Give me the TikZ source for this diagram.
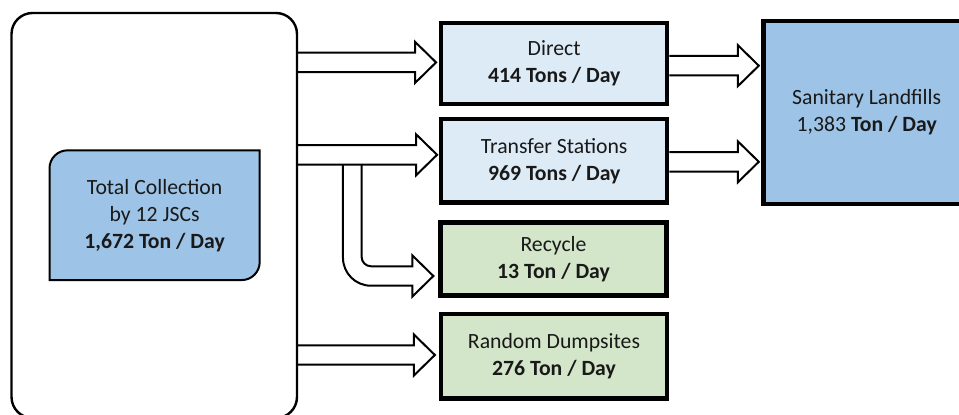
\documentclass[tikz,border=0pt]{standalone}
\usepackage{fontspec}
\setmainfont{Carlito}
\usepackage{tikz}
\usetikzlibrary{calc}
\usetikzlibrary{backgrounds}
\definecolor{deepblue}{HTML}{9DC3E6}
\definecolor{paleblue}{HTML}{DDEBF7}
\definecolor{palegreen}{HTML}{D3E6C9}
% block arrow from the x of #1 to the tip #2
\newcommand{\blockarrow}[2]{%
  \draw[blockline] let \p1=#1, \p2=#2 in
    (\x1,\y2+7.3pt) -- (\x2-15.75pt,\y2+7.3pt) -- (\x2-15.75pt,\y2+15.4pt) -- (\x2,\y2)
    -- (\x2-15.75pt,\y2-15.4pt) -- (\x2-15.75pt,\y2-7.3pt) -- (\x1,\y2-7.3pt);}

\begin{document}
\begin{tikzpicture}[x=0.75pt,y=-0.75pt, font=\fontsize{16.3}{20.25}\selectfont, text=black!90]
		\tikzstyle{box}=[draw=black, line width=3.2pt, align=center, minimum width=169.5pt]
		\tikzstyle{blockline}=[draw=black, line width=1.5pt]
		\useasboundingbox (0,0) rectangle (959,414);

		% Draw the collection side
		\node[draw=black, line width=1.8pt, rounded corners=15.75pt, minimum width=214.1pt, minimum height=303.75pt] (outer) at (154.25,215.5) {};
		\node[outer sep=0pt, align=center, minimum width=157.65pt, minimum height=97.3pt] (total) at (154.6,215.2) {Total Collection \\ by 12 JSCs \\ \textbf{1,672 Ton / Day}};
		\begin{pgfonlayer}{background}
		\draw[fill=deepblue, line width=1.5pt] (total.north east) -- ([xshift=13.5pt]total.north west) arc[start angle=90, end angle=180, radius=13.5pt]
			-- (total.south west) -- ([xshift=-13.5pt]total.south east) arc[start angle=270, end angle=360, radius=13.5pt] -- cycle;
		\end{pgfonlayer}

		% Draw the streams
		\node[box, fill=paleblue, minimum height=60.9pt] (direct) at (554.2,63.4) {Direct \\ \textbf{414 Tons / Day}};
		\node[box, fill=paleblue, minimum height=62.6pt] (transfer) at (554.2,160.8) {Transfer Stations \\ \textbf{969 Tons / Day}};
		\node[box, fill=palegreen, minimum height=54.75pt] (recycle) at (553.5,259) {Recycle \\ \textbf{13 Ton / Day}};
		\node[box, fill=palegreen, minimum height=63.1pt] (random) at (554,356.3) {Random Dumpsites \\ \textbf{276 Ton / Day}};
		\node[box, fill=deepblue, minimum width=154.9pt, minimum height=137.6pt] (sanitary) at (866.7,112.5) {Sanitary Landfills \\ 1,383 \textbf{Ton / Day}};

		% Draw arrows
		\blockarrow{(outer.east)}{($(direct.west)+(-3,-1)$)}
		\blockarrow{(outer.east)}{($(transfer.west)+(-2,-6)$)}
		\blockarrow{(outer.east)}{($(random.west)+(-4,-1.3)$)}
		\blockarrow{(direct.east)}{($(sanitary.west |- direct.west)+(-2.5,2.3)$)}
		\blockarrow{(transfer.east)}{($(sanitary.west |- transfer.west)+(-2.5,1)$)}

		\coordinate (fork) at (352.3,164.3);
		\draw[blockline] let \p1=(fork), \p2=($(recycle.west)+(-5,17)$) in
			(\x1+7pt,\y1) -- (\x1+7pt,\y2+14.3pt) arc[start angle=180, end angle=270, radius=7pt]
			-- (\x2-15.75pt,\y2+7.3pt) -- (\x2-15.75pt,\y2+15.4pt) -- (\x2,\y2) -- (\x2-15.75pt,\y2-15.4pt) -- (\x2-15.75pt,\y2-7.3pt)
			-- (\x1+14pt,\y2-7.3pt) arc[start angle=270, end angle=180, radius=21pt] -- (\x1-7pt,\y1);

\end{tikzpicture}
\end{document}
